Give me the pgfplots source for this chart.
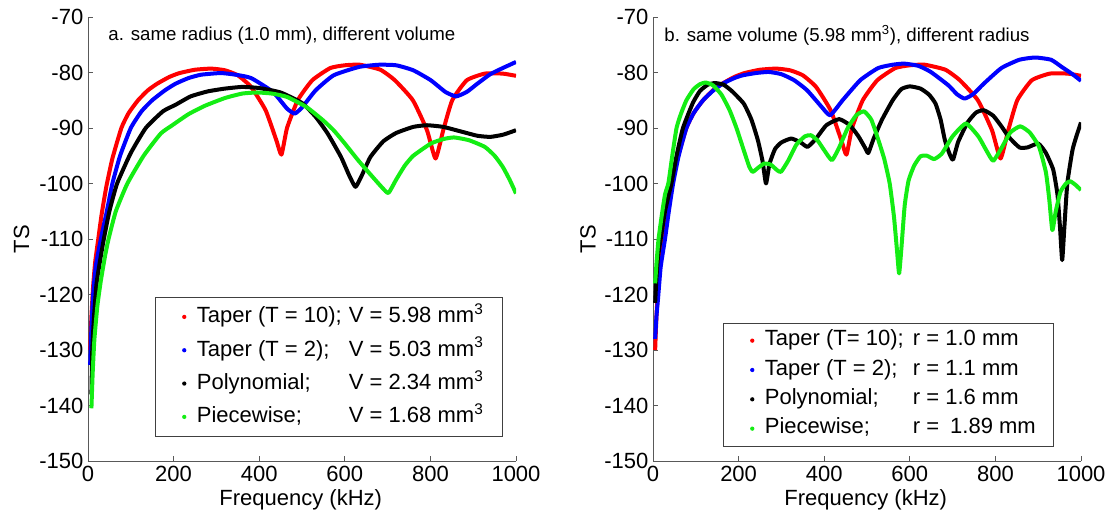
\documentclass[border=0pt]{standalone}
\usepackage{fontspec}
\setmainfont{Liberation Sans}
\usepackage{pgfplots}
\pgfplotsset{compat=1.18}
\definecolor{mred}{rgb}{1,0,0}
\definecolor{mblue}{rgb}{0,0,1}
\definecolor{mgreen}{rgb}{0.08,0.93,0.08}
\definecolor{axgray}{gray}{0.35}

\pgfplotsset{
 tsaxis/.style={
  scale only axis, width=321pt, height=333pt,
  xmin=0, xmax=1000, ymin=-150, ymax=-70,
  axis x line=bottom, axis y line=left,
  axis line style={-, draw=axgray, line width=0.6pt},
  xtick={0,200,...,1000}, ytick={-150,-140,...,-70},
  tick align=inside, major tick length=4pt,
  tick style={draw=axgray, line width=0.6pt},
  /pgf/number format/assume math mode=true,
  /pgf/number format/1000 sep={},
  tick label style={font=\fontsize{16.5}{16.5}\selectfont},
  label style={font=\fontsize{16.5}{16.5}\selectfont},
  xlabel={Frequency (kHz)}, ylabel={TS},
  xlabel style={at={(axis description cs:0.497,-0.088)}, anchor=center},
  title style={anchor=west, font=\fontsize{14}{14}\selectfont, inner sep=0pt},
  legend cell align=left,
  legend image code/.code={\path[draw=none,fill=none] (0,0) -- (28pt,0); \fill[#1, draw=none] (21.5pt,0) circle (1.6pt);},
  every axis plot/.append style={line width=3pt, smooth, tension=0.3, line join=round},
 }
}

\begin{document}
\begin{tikzpicture}
\useasboundingbox (0,0) rectangle (834pt,388.5pt);
% ---------------- left panel ----------------
\begin{axis}[tsaxis, at={(66pt,42.75pt)}, anchor=south west,
  ylabel style={at={(axis description cs:-0.155,0.5)}, anchor=center},
  title={a. same radius (1.0 mm), different volume},
  title style={at={(axis description cs:0.047,0.941)}},
  legend style={at={(axis description cs:0.157,0.369)}, anchor=north west,
    draw=black!75, line width=0.6pt, inner xsep=0pt, inner ysep=2pt,
    font=\fontsize{16.5}{16.5}\selectfont,
    nodes={text height=13pt, text depth=4pt, inner ysep=4pt, inner xsep=3pt}},
]
\addplot[mred] coordinates {(5,-130)(8,-124)(12,-118.5)(17,-114)(24,-110)(32,-105.5)(43,-100.5)(57,-95.5)(78,-90)(95,-87.3)(117,-85)(140,-83.2)(162,-82)(190,-80.8)(214,-80.1)(250,-79.5)(288,-79.3)(320,-79.6)(350,-80.5)(381,-82.6)(415,-86.8)(440,-92.2)(452,-94.8)(465,-90)(490,-85)(524,-81.4)(566,-79.2)(600,-78.7)(635,-78.6)(683,-79.5)(717,-81.4)(759,-85)(792,-90.4)(812,-95.5)(830,-90.4)(851,-85)(885,-81.4)(927,-80.2)(969,-80.2)(1000,-80.6)};
\addlegendentry{\makebox[114pt][l]{Taper (T = 10);}V = 5.98 mm\textsuperscript{3}\kern11.5pt}
\addplot[mblue] coordinates {(5,-132.7)(8,-126)(12,-120)(18,-115)(30,-110)(44,-105)(57,-100)(75,-95)(100,-90)(125,-87)(150,-85)(180,-83.2)(205,-82)(235,-81)(264,-80.4)(310,-80.1)(345,-80.4)(381,-81)(432,-83.5)(465,-86.5)(483,-87.4)(500,-86.3)(532,-83.2)(574,-80.5)(633,-79)(680,-78.6)(720,-78.7)(760,-79.6)(801,-81.4)(835,-83.5)(860,-84.3)(885,-83.5)(910,-82)(940,-80.3)(969,-79.2)(1000,-78.1)};
\addlegendentry{\makebox[114pt][l]{Taper (T = 2);}V = 5.03 mm\textsuperscript{3}}
\addplot[black] coordinates {(8,-138)(10,-130)(14,-124)(20,-118)(28,-114)(37,-110)(50,-105)(68,-100)(100,-94.5)(135,-90)(175,-87)(205,-85.8)(240,-84.3)(280,-83.4)(320,-82.9)(360,-82.6)(400,-82.8)(450,-83.6)(500,-85.5)(532,-88)(560,-91)(591,-95.2)(610,-98.5)(625,-100.6)(640,-98.5)(660,-95.2)(690,-92.4)(720,-90.9)(760,-89.8)(792,-89.5)(830,-89.8)(870,-90.6)(910,-91.4)(940,-91.6)(970,-91.2)(1000,-90.4)};
\addlegendentry{\makebox[114pt][l]{Polynomial;}V = 2.34 mm\textsuperscript{3}}
\addplot[mgreen] coordinates {(8,-140.5)(11,-134)(15,-128)(22,-122)(30,-117.5)(40,-113)(48,-110)(65,-105)(92,-100)(130,-95)(170,-91)(197,-89.5)(235,-87.5)(273,-86)(320,-84.6)(360,-83.8)(395,-83.6)(430,-83.8)(465,-84.4)(510,-86.2)(549,-88.6)(575,-90.5)(600,-92.8)(630,-95.7)(658,-98.2)(688,-100.8)(702,-101.7)(720,-99.3)(740,-96.8)(760,-95)(801,-92.8)(830,-92)(855,-91.7)(890,-92.2)(927,-93.4)(950,-95)(969,-97)(985,-99.3)(1000,-101.8)};
\addlegendentry{\makebox[114pt][l]{Piecewise;}V = 1.68 mm\textsuperscript{3}}
\end{axis}
% ---------------- right panel ----------------
\begin{axis}[tsaxis, at={(489.75pt,42.75pt)}, anchor=south west,
  ylabel style={at={(axis description cs:-0.152,0.5)}, anchor=center},
  title={b. same volume (5.98 mm\textsuperscript{3}), different radius},
  title style={at={(axis description cs:0.026,0.941)}},
  legend style={at={(axis description cs:0.164,0.311)}, anchor=north west,
    draw=black!75, line width=0.6pt, inner xsep=0pt, inner ysep=2pt,
    font=\fontsize{16.5}{16.5}\selectfont,
    nodes={text height=11.5pt, text depth=3.5pt, inner ysep=3.5pt, inner xsep=3pt}},
]
\addplot[mred] coordinates {(5,-130)(8,-124)(12,-118.5)(17,-114)(24,-110)(32,-105.5)(43,-100.5)(57,-95.5)(78,-90)(95,-87.3)(117,-85)(140,-83.2)(162,-82)(190,-80.8)(214,-80.1)(250,-79.5)(288,-79.3)(320,-79.6)(350,-80.5)(381,-82.6)(415,-86.8)(440,-92.2)(452,-94.8)(465,-90)(490,-85)(524,-81.4)(566,-79.2)(600,-78.7)(635,-78.6)(683,-79.5)(717,-81.4)(759,-85)(792,-90.4)(812,-95.5)(830,-90.4)(851,-85)(885,-81.4)(927,-80.2)(969,-80.2)(1000,-80.6)};
\addlegendentry{\makebox[111pt][l]{Taper (T= 10);}r = 1.0 mm}
\addplot[mblue] coordinates {(5,-128)(8,-124)(12,-120.5)(18,-115)(28,-110)(37,-105)(47,-100)(60,-95)(78,-90)(95,-87.3)(117,-85)(140,-83.3)(163,-82)(190,-81)(210,-80.5)(240,-80.1)(270,-79.9)(300,-80.3)(330,-81.4)(360,-83.2)(394,-86.2)(414,-87.7)(443,-85)(484,-81.4)(526,-79.2)(560,-78.6)(587,-78.4)(620,-78.8)(649,-79.9)(690,-82.3)(710,-83.9)(728,-84.7)(748,-83.9)(773,-82)(814,-79.2)(856,-77.7)(893,-77.3)(930,-77.7)(955,-79)(980,-80.3)(1000,-81.5)};
\addlegendentry{\makebox[111pt][l]{Taper (T = 2);}r = 1.1 mm}
\addplot[black] coordinates {(5,-121.5)(8,-117)(12,-113)(18,-110)(28,-105)(43,-100)(55,-95)(70,-90)(93,-85.5)(110,-83.3)(128,-82.2)(145,-81.9)(165,-82.2)(185,-83.4)(212,-85.6)(230,-88.5)(245,-92.2)(256,-96)(264,-100)(272,-96.5)(285,-93.8)(300,-92.6)(323,-91.9)(345,-92.6)(361,-93.4)(380,-92)(405,-89.5)(435,-88.4)(460,-89.5)(480,-91.5)(495,-93.5)(503,-94.5)(515,-92)(535,-88.5)(560,-85)(580,-83)(600,-82.5)(625,-82.9)(645,-84)(660,-85.6)(672,-88.5)(682,-92.2)(693,-94.7)(701,-95.7)(713,-92.5)(735,-89)(755,-87.2)(773,-86.8)(795,-87.8)(815,-89.8)(831,-91.6)(856,-93.5)(875,-93.5)(900,-92.8)(918,-94.5)(935,-97.5)(945,-102)(951,-108)(956,-113.8)(961,-108)(968,-100)(980,-94)(990,-91.3)(1000,-89)};
\addlegendentry{\makebox[111pt][l]{Polynomial;}r = 1.6 mm}
\addplot[mgreen] coordinates {(5,-118)(8.5,-114)(13,-110)(20,-106)(28,-102)(36,-99.9)(45,-95)(55,-90)(65,-87.5)(78,-85)(95,-83)(110,-82.1)(123,-81.8)(140,-82.3)(160,-84)(179,-86.8)(195,-90)(212,-94)(225,-97)(233,-97.9)(245,-97.2)(260,-96.4)(275,-96.6)(290,-97.6)(299,-97.9)(315,-96)(335,-93)(355,-91.5)(369,-91.3)(385,-92.3)(400,-94)(418,-95.8)(435,-93.5)(455,-90)(475,-87.7)(493,-87)(510,-88.5)(525,-91.8)(540,-95.5)(553,-100)(563,-106)(570,-112)(575,-116.2)(580,-112)(588,-104)(597,-99.5)(610,-96.8)(625,-95.1)(640,-95)(657,-95.6)(675,-94.6)(700,-91.5)(731,-89.2)(760,-91.5)(780,-94.2)(795,-95.9)(815,-93.5)(835,-90.8)(858,-89.7)(880,-90.8)(902,-93.4)(918,-98)(926,-103)(933,-108.4)(941,-105)(952,-101.5)(965,-100)(975,-99.6)(988,-100.3)(1000,-101.2)};
\addlegendentry{\makebox[111pt][l]{Piecewise;}r =\hspace{0.5em}1.89 mm\kern10pt}
\end{axis}
\end{tikzpicture}
\end{document}
